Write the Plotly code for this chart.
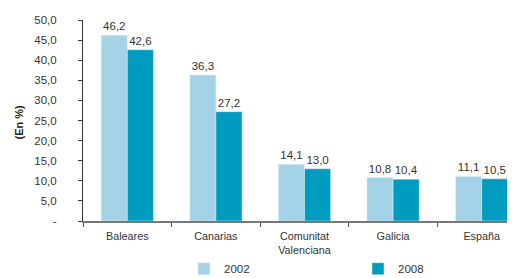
import plotly.graph_objects as go

categories = ["Baleares", "Canarias", "Comunitat<br>Valenciana", "Galicia", "España"]
values_2002 = [46.2, 36.3, 14.1, 10.8, 11.1]
values_2008 = [42.6, 27.2, 13.0, 10.4, 10.5]
y_tickvals = [0, 5, 10, 15, 20, 25, 30, 35, 40, 45, 50]
y_ticktext = ["-", "5,0", "10,0", "15,0", "20,0", "25,0", "30,0", "35,0", "40,0", "45,0", "50,0"]

def fmt(v):
    return f"{v:.1f}".replace(".", ",")

FONT = "Liberation Sans, Arial, sans-serif"
fig = go.Figure()
fig.add_trace(go.Bar(name="2002", x=categories, y=values_2002, marker_color="#A4D3E8",
                     text=[fmt(v) for v in values_2002], textposition="outside",
                     textfont=dict(size=11.5, color="#333333"), cliponaxis=False,
                     legend="legend"))
fig.add_trace(go.Bar(name="2008", x=categories, y=values_2008, marker_color="#009CBF",
                     text=[fmt(v) for v in values_2008], textposition="outside",
                     textfont=dict(size=11.5, color="#333333"), cliponaxis=False,
                     legend="legend2"))

leg_common = dict(orientation="h", xref="container", yref="container", yanchor="middle",
                  y=0.062, xanchor="left", font=dict(size=11.5, color="#333333"),
                  itemwidth=30, bgcolor="rgba(0,0,0,0)")

fig.update_layout(
    width=515, height=278,
    margin=dict(l=75, r=0, t=12, b=65, autoexpand=False),
    paper_bgcolor="white", plot_bgcolor="white",
    barmode="group", bargap=0.41, bargroupgap=0,
    font=dict(family=FONT, size=10, color="#333333"),
    showlegend=True,
    legend=dict(leg_common, x=176 / 515),
    legend2=dict(leg_common, x=350 / 515),
    xaxis=dict(type="category", range=[-0.5, 4.466], showline=True, linecolor="#777777",
               linewidth=1.5, ticks="outside", tickson="boundaries", ticklen=4,
               tickcolor="#555555", showgrid=False, tickfont=dict(size=10.8),
               ticklabelstandoff=4),
    yaxis=dict(range=[0, 50], tickvals=y_tickvals, ticktext=y_ticktext, showline=True,
               linecolor="#333333", linewidth=1, ticks="outside", ticklen=4,
               tickcolor="#333333", showgrid=False, zeroline=False,
               ticklabelstandoff=19, tickfont=dict(size=11.5)),
    annotations=[dict(text="<b>(En %)</b>", textangle=-90, xref="paper", yref="paper",
                      x=-0.1477, y=0.49, xanchor="center", yanchor="middle", showarrow=False,
                      font=dict(size=11, color="#222222"))],
)

fig.write_html("out.html")
